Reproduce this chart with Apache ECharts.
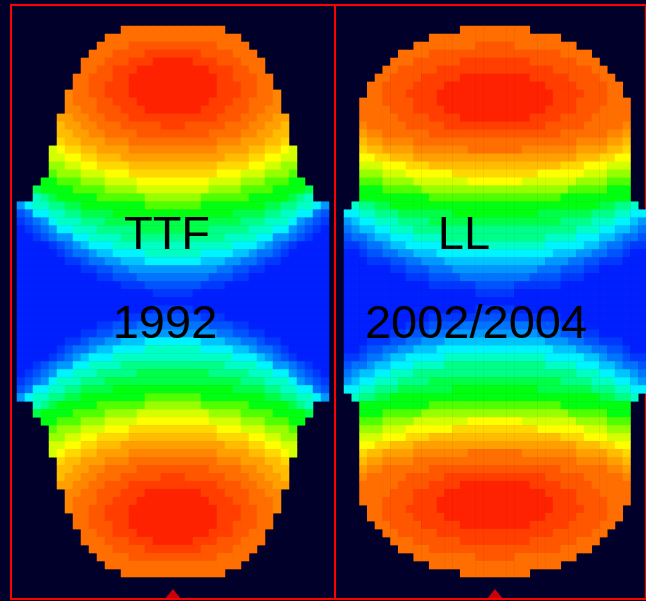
<!DOCTYPE html>
<html>
<head>
<meta charset="utf-8">
<script src="https://cdn.jsdelivr.net/npm/echarts@6/dist/echarts.min.js"></script>
<style>
html,body{margin:0;padding:0;background:#00002b;}
#chart{width:646px;height:601px;}
</style>
</head>
<body>
<div id="chart"></div>
<script>
// Field level keys (low -> high) and their colours (jet-like scale)
const levelKeys = '0123456789abcdefghijklm';
const levelColors = [
  '#0020ff','#0038ff','#0054ff','#0074ff','#0098ff','#00c4ff','#00f4ff',
  '#00ffc4','#00ff88','#00ff48','#00ff10','#50ff00','#98ff00','#d4ff00',
  '#ffff00','#ffd800','#ffbc00','#ffa000','#ff8600','#ff6e00','#ff5600',
  '#ff3e00','#ff2200'
];

// Cell rows of the TTF (1992) cell field map, run-length coded: symbol + count ('.' = outside)
const ttfRows = [
".13 j13 .13",
".11 j17 .11",
".10 j4 k11 j4 .10",
".9 j3 k4 l7 k4 j3 .9",
".8 j3 k3 l3 m5 l3 k3 j3 .8",
".8 j2 k2 l3 m9 l3 k2 j2 .8",
".7 j2 k3 l2 m11 l2 k3 j2 .7",
".7 j2 k2 l3 m11 l3 k2 j2 .7",
".6 i j2 k2 l3 m11 l3 k2 j2 i .6",
".6 i j3 k2 l3 m9 l3 k2 j3 i .6",
".6 i2 j2 k3 l3 m7 l3 k3 j2 i2 .6",
".5 h2 i2 j2 k3 l11 k3 j2 i2 h2 .5",
".5 g h2 i2 j3 k5 l3 k5 j3 i2 h2 g .5",
".5 g2 h2 i2 j4 k9 j4 i2 h2 g2 .5",
".5 f g2 h3 i3 j11 i3 h3 g2 f .5",
".4 d e f2 g2 h4 i11 h4 g2 f2 e d .4",
".4 d2 e2 f2 g3 h13 g3 f2 e2 d2 .4",
".4 c2 d2 e2 f4 g11 f4 e2 d2 c2 .4",
".4 b c3 d3 e3 f11 e3 d3 c3 b .4",
".3 a2 b3 c3 d4 e9 d4 c3 b3 a2 .3",
".2 9 a4 b4 c4 d9 c4 b4 a4 9 .2",
".2 7 8 9 a5 b6 c7 b6 a5 9 8 7 .2",
"4 6 72 82 92 a8 b7 a8 92 82 72 6 4",
"2 3 62 72 82 94 a15 94 82 72 62 3 2",
"1 2 3 4 6 73 83 917 83 73 6 4 3 2 1",
"0 1 2 3 4 62 73 85 99 85 73 62 4 3 2 1 0",
"02 1 2 3 42 62 74 813 74 62 42 3 2 1 02",
"04 1 2 3 4 5 63 715 63 5 4 3 2 1 04",
"05 1 2 32 4 52 64 77 64 52 4 32 2 1 05",
"06 12 2 32 42 53 67 53 42 32 2 12 06",
"08 12 22 32 411 32 22 12 08",
"010 12 23 39 23 12 010",
"013 13 27 13 013",
"017 15 017",
"039",
"017 15 017",
"013 13 27 13 013",
"010 12 23 39 23 12 010",
"08 12 22 32 411 32 22 12 08",
"06 12 2 32 42 53 67 53 42 32 2 12 06",
"05 1 2 32 4 52 64 77 64 52 4 32 2 1 05",
"04 1 2 3 4 5 63 715 63 5 4 3 2 1 04",
"02 1 2 3 42 62 74 813 74 62 42 3 2 1 02",
"0 1 2 3 4 62 73 85 99 85 73 62 4 3 2 1 0",
"1 2 3 4 6 73 83 917 83 73 6 4 3 2 1",
"2 3 62 72 82 94 a15 94 82 72 62 3 2",
"4 6 72 82 92 a8 b7 a8 92 82 72 6 4",
".2 7 8 9 a5 b6 c7 b6 a5 9 8 7 .2",
".2 9 a4 b4 c4 d9 c4 b4 a4 9 .2",
".3 a2 b3 c3 d4 e9 d4 c3 b3 a2 .3",
".4 b c3 d3 e3 f11 e3 d3 c3 b .4",
".4 c2 d2 e2 f4 g11 f4 e2 d2 c2 .4",
".4 d2 e2 f2 g3 h13 g3 f2 e2 d2 .4",
".4 d e f2 g2 h4 i11 h4 g2 f2 e d .4",
".5 f g2 h3 i3 j11 i3 h3 g2 f .5",
".5 g2 h2 i2 j4 k9 j4 i2 h2 g2 .5",
".5 g h2 i2 j3 k5 l3 k5 j3 i2 h2 g .5",
".5 h2 i2 j2 k3 l11 k3 j2 i2 h2 .5",
".6 i2 j2 k3 l3 m7 l3 k3 j2 i2 .6",
".6 i j3 k2 l3 m9 l3 k2 j3 i .6",
".6 i j2 k2 l3 m11 l3 k2 j2 i .6",
".7 j2 k2 l3 m11 l3 k2 j2 .7",
".7 j2 k3 l2 m11 l2 k3 j2 .7",
".8 j2 k2 l3 m9 l3 k2 j2 .8",
".8 j3 k3 l3 m5 l3 k3 j3 .8",
".9 j3 k4 l7 k4 j3 .9",
".10 j4 k11 j4 .10",
".11 j17 .11",
".13 j13 .13"
];

// Cell rows of the LL (2002/2004) cell field map
const llRows = [
".15 j9 .15",
".11 j17 .11",
".9 j8 k5 j8 .9",
".7 j4 k17 j4 .7",
".6 j3 k6 l9 k6 j3 .6",
".5 j2 k5 l15 k5 j2 .5",
".4 j2 k4 l5 m9 l5 k4 j2 .4",
".3 j2 k4 l4 m13 l4 k4 j2 .3",
".3 j2 k3 l4 m15 l4 k3 j2 .3",
".2 j3 k4 l3 m15 l3 k4 j3 .2",
".2 j4 k3 l4 m13 l4 k3 j4 .2",
".2 j5 k4 l4 m9 l4 k4 j5 .2",
".2 i j5 k5 l13 k5 j5 i .2",
".2 h i2 j6 k17 j6 i2 h .2",
".2 g h2 i4 j21 i4 h2 g .2",
".2 f g2 h4 i7 j7 i7 h4 g2 f .2",
".2 e2 f2 g3 h21 g3 f2 e2 .2",
".2 d3 e3 f3 g17 f3 e3 d3 .2",
".2 c3 d3 e6 f11 e6 d3 c3 .2",
".2 b3 c4 d7 e7 d7 c4 b3 .2",
".2 a3 b5 c19 b5 a3 .2",
".2 a9 b17 a9 .2",
". 7 82 92 a27 92 82 7 .",
"62 72 83 97 a11 97 83 72 62",
"4 5 62 73 84 917 84 73 62 5 4",
"3 4 52 62 73 821 73 62 52 4 3",
"2 32 4 52 63 74 813 74 63 52 4 32 2",
"12 2 32 4 52 65 713 65 52 4 32 2 12",
"02 1 22 32 42 53 615 53 42 32 22 1 02",
"03 13 22 32 43 513 43 32 22 13 03",
"06 12 23 33 411 33 23 12 06",
"08 13 24 39 24 13 08",
"011 16 25 16 011",
"017 15 017",
"039",
"017 15 017",
"011 16 25 16 011",
"08 13 24 39 24 13 08",
"06 12 23 33 411 33 23 12 06",
"03 13 22 32 43 513 43 32 22 13 03",
"02 1 22 32 42 53 615 53 42 32 22 1 02",
"12 2 32 4 52 65 713 65 52 4 32 2 12",
"2 32 4 52 63 74 813 74 63 52 4 32 2",
"3 4 52 62 73 821 73 62 52 4 3",
"4 5 62 73 84 917 84 73 62 5 4",
"62 72 83 97 a11 97 83 72 62",
". 7 82 92 a27 92 82 7 .",
".2 a9 b17 a9 .2",
".2 a3 b5 c19 b5 a3 .2",
".2 b3 c4 d7 e7 d7 c4 b3 .2",
".2 c3 d3 e6 f11 e6 d3 c3 .2",
".2 d3 e3 f3 g17 f3 e3 d3 .2",
".2 e2 f2 g3 h21 g3 f2 e2 .2",
".2 f g2 h4 i7 j7 i7 h4 g2 f .2",
".2 g h2 i4 j21 i4 h2 g .2",
".2 h i2 j6 k17 j6 i2 h .2",
".2 i j5 k5 l13 k5 j5 i .2",
".2 j5 k4 l4 m9 l4 k4 j5 .2",
".2 j4 k3 l4 m13 l4 k3 j4 .2",
".2 j3 k4 l3 m15 l3 k4 j3 .2",
".3 j2 k3 l4 m15 l4 k3 j2 .3",
".3 j2 k4 l4 m13 l4 k4 j2 .3",
".4 j2 k4 l5 m9 l5 k4 j2 .4",
".5 j2 k5 l15 k5 j2 .5",
".6 j3 k6 l9 k6 j3 .6",
".7 j4 k17 j4 .7",
".9 j8 k5 j8 .9",
".11 j17 .11",
".15 j9 .15"
];

const ttfLabels = ['TTF', '1992'];
const llLabels = ['LL', '2002/2004'];
const centreMarker = [[19, 71]];   // column / row of the red marker under each cell
const columnCount = 39;
const rowCount = 72;

function decodeRow(rle) {
  let s = '';
  rle.split(' ').forEach(function (t) {
    const n = t.length > 1 ? parseInt(t.slice(1), 10) : 1;
    s += t[0].repeat(n);
  });
  return s;
}
function toCells(rows) {
  const out = [];
  rows.forEach(function (rle, r) {
    const s = decodeRow(rle);
    for (let c = 0; c < s.length; c++) {
      if (s[c] === '.') continue;
      out.push([c, r, levelKeys.indexOf(s[c])]);
    }
  });
  return out;
}
const colIds = Array.from({length: columnCount}, (_, i) => String(i));
const rowIds = Array.from({length: rowCount}, (_, i) => String(i));

const chart = echarts.init(document.getElementById('chart'), null, {renderer: 'canvas'});
const font = '47px "Liberation Sans", Arial, sans-serif';
function label(text, x, y) {
  return {type: 'text', x: x, y: y, z: 100,
    style: {text: text, font: font, fill: '#000000',
      align: 'center', verticalAlign: 'middle', textAlign: 'center', textVerticalAlign: 'middle'}};
}
chart.setOption({
  backgroundColor: '#00002b',
  animation: false,
  grid: [
    {left: 17, top: 26, width: 312, height: 576},
    {left: 344, top: 26, width: 312, height: 576},
    {left: 11, top: 5, width: 324, height: 594, show: true, borderColor: '#ff0000', borderWidth: 2, backgroundColor: 'transparent'},
    {left: 335, top: 5, width: 400, height: 594, show: true, borderColor: '#ff0000', borderWidth: 2, backgroundColor: 'transparent'}
  ],
  xAxis: [
    {gridIndex: 0, type: 'category', data: colIds, show: false},
    {gridIndex: 1, type: 'category', data: colIds, show: false},
    {gridIndex: 2, type: 'value', show: false},
    {gridIndex: 3, type: 'value', show: false}
  ],
  yAxis: [
    {gridIndex: 0, type: 'category', data: rowIds, inverse: true, show: false},
    {gridIndex: 1, type: 'category', data: rowIds, inverse: true, show: false},
    {gridIndex: 2, type: 'value', show: false},
    {gridIndex: 3, type: 'value', show: false}
  ],
  visualMap: {
    type: 'piecewise', show: false, dimension: 2, seriesIndex: [0, 1],
    pieces: levelColors.map(function (c, i) { return {value: i, color: c}; })
  },
  series: [
    {type: 'heatmap', xAxisIndex: 0, yAxisIndex: 0, data: toCells(ttfRows), progressive: 0, itemStyle: {borderWidth: 0}},
    {type: 'heatmap', xAxisIndex: 1, yAxisIndex: 1, data: toCells(llRows), progressive: 0, itemStyle: {borderWidth: 0}},
    {type: 'scatter', xAxisIndex: 0, yAxisIndex: 0, data: centreMarker, symbol: 'triangle', symbolSize: [16, 10], symbolOffset: [0, -3], itemStyle: {color: '#ff0000'}, z: 5},
    {type: 'scatter', xAxisIndex: 1, yAxisIndex: 1, data: centreMarker, symbol: 'triangle', symbolSize: [16, 10], symbolOffset: [0, -3], itemStyle: {color: '#ff0000'}, z: 5}
  ],
  graphic: [
    label(ttfLabels[0], 167, 236),
    label(ttfLabels[1], 165, 325),
    label(llLabels[0], 464, 236),
    label(llLabels[1], 476, 325)
  ]
});
</script>
</body>
</html>
